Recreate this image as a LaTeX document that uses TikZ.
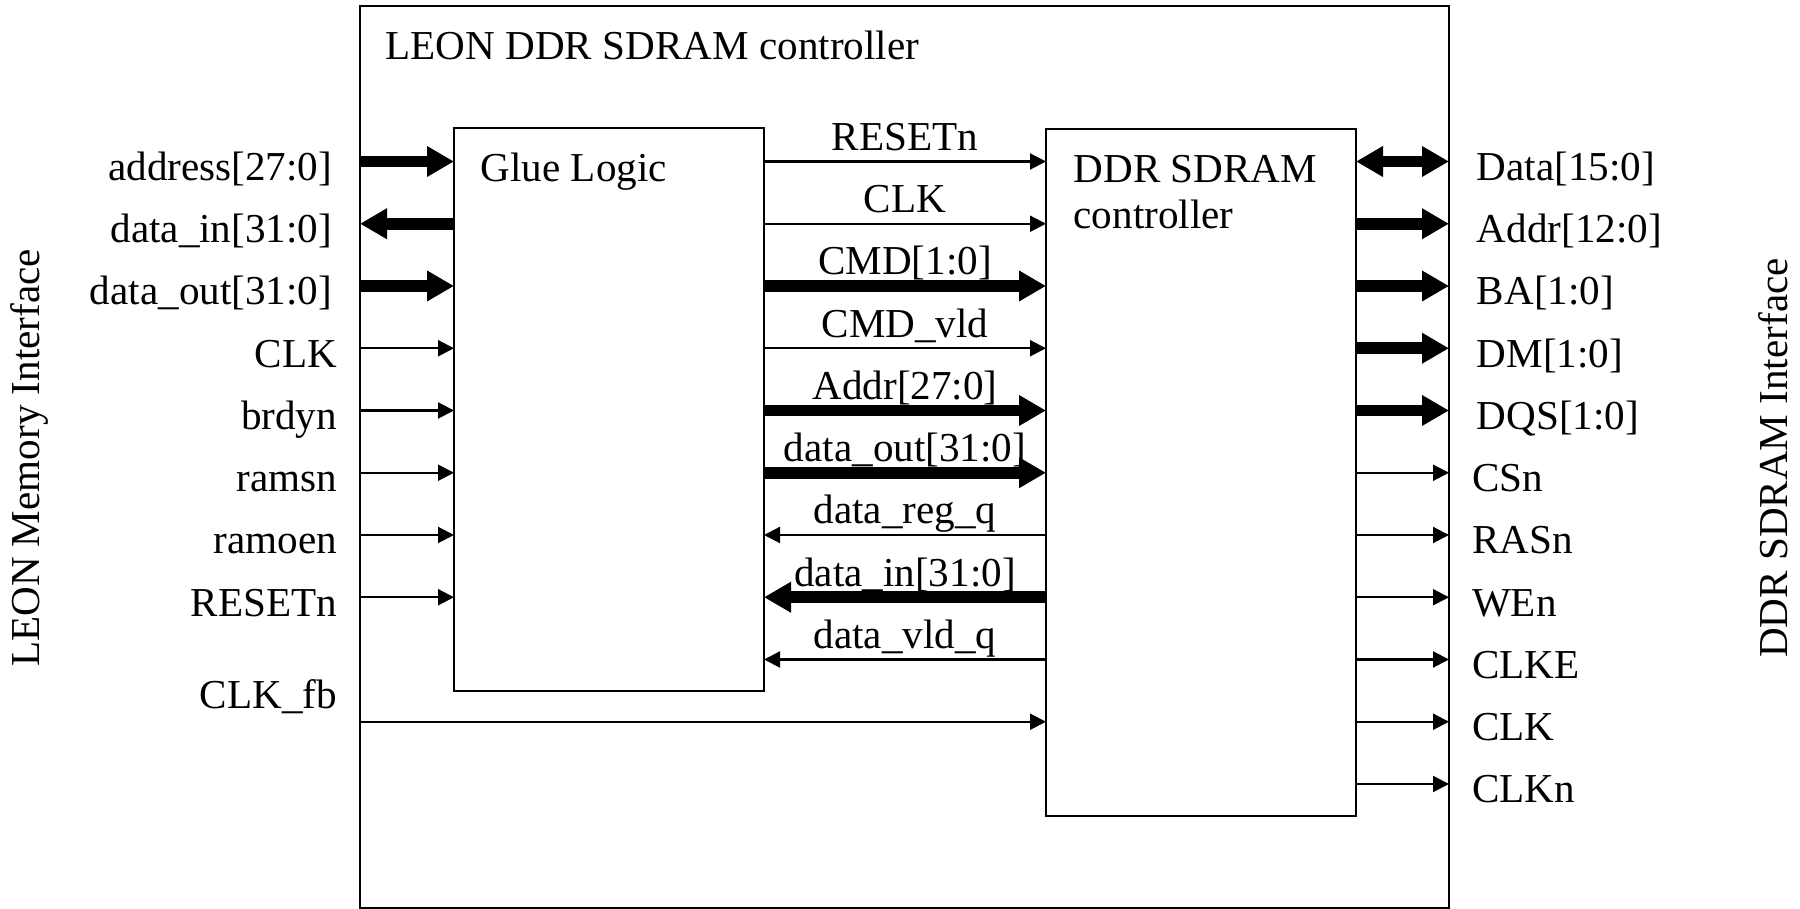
\documentclass[tikz,border=0pt]{standalone}
\usepackage{fontspec}
\setmainfont{Liberation Serif}
\usetikzlibrary{arrows.meta}

\tikzset{
  block/.style={draw, line width=0.6pt, inner sep=0pt, outer sep=0pt},
  lbl/.style={inner sep=0pt, font=\fontsize{11.7}{13}\selectfont},
  sig/.style={line width=0.6pt, -{Triangle[length=1.6mm,width=1.6mm]}},
  bus/.style={line width=3.4pt, -{Triangle[length=2.7mm,width=2.9mm]}},
  bibus/.style={line width=3.4pt, {Triangle[length=2.7mm,width=2.9mm]}-{Triangle[length=2.7mm,width=2.9mm]}},
  inlbl/.style={lbl, anchor=base east, xshift=-2.2mm, yshift=-1.9mm},
  outlbl/.style={lbl, anchor=base west, xshift=2.2mm, yshift=-1.9mm},
  midlbl/.style={lbl, midway, anchor=base, yshift=1.1mm}
}

\begin{document}
\begin{tikzpicture}
    \useasboundingbox (0,0) rectangle (18,9.09);

        % Boxes
        \node[block, minimum width=10.89cm, minimum height=9.02cm] (leon) at (9.045,4.52) {};
        \node[block, minimum width=3.10cm, minimum height=5.63cm] (glue) at (6.09,4.995) {};
        \node[block, minimum width=3.10cm, minimum height=6.87cm] (ddr) at (12.01,4.365) {};

        \node[lbl, anchor=base west] (title) at (3.85,8.49) {LEON DDR SDRAM controller};
        \node[lbl, anchor=base west] (gluename) at (4.80,7.27) {Glue Logic};
        \node[lbl, anchor=north west, align=left] (ddrname) at (10.73,7.54) {DDR SDRAM\\controller};

        \node[lbl, rotate=90, anchor=base] (leonif) at (0.40,4.51) {LEON Memory Interface};
        \node[lbl, rotate=90, anchor=base] (ddrif) at (17.87,4.51) {DDR SDRAM Interface};

        % Rows
        \foreach \k in {0,...,10}
            \coordinate (r\k) at (0,{7.475-0.6225*\k});

        % LEON side
        \draw[bus] (leon.west |- r0) node[inlbl] (a0) {address[27:0]} -- (glue.west |- r0);
        \draw[bus] (glue.west |- r1) -- (leon.west |- r1) node[inlbl] (a1) {data\_in[31:0]};
        \draw[bus] (leon.west |- r2) node[inlbl] (a2) {data\_out[31:0]} -- (glue.west |- r2);
        \draw[sig] (leon.west |- r3) node[inlbl] (a3) {CLK} -- (glue.west |- r3);
        \draw[sig] (leon.west |- r4) node[inlbl] (a4) {brdyn} -- (glue.west |- r4);
        \draw[sig] (leon.west |- r5) node[inlbl] (a5) {ramsn} -- (glue.west |- r5);
        \draw[sig] (leon.west |- r6) node[inlbl] (a6) {ramoen} -- (glue.west |- r6);
        \draw[sig] (leon.west |- r7) node[inlbl] (a7) {RESETn} -- (glue.west |- r7);
        \draw[sig] (leon.west |- r9) node[lbl, anchor=base east, xshift=-2.2mm, yshift=1.3mm] (a9) {CLK\_fb} -- (ddr.west |- r9);

        % Glue logic to controller
        \draw[sig] (glue.east |- r0) -- node[midlbl] (m0) {RESETn} (ddr.west |- r0);
        \draw[sig] (glue.east |- r1) -- node[midlbl] (m1) {CLK} (ddr.west |- r1);
        \draw[bus] (glue.east |- r2) -- node[midlbl] (m2) {CMD[1:0]} (ddr.west |- r2);
        \draw[sig] (glue.east |- r3) -- node[midlbl] (m3) {CMD\_vld} (ddr.west |- r3);
        \draw[bus] (glue.east |- r4) -- node[midlbl] (m4) {Addr[27:0]} (ddr.west |- r4);
        \draw[bus] (glue.east |- r5) -- node[midlbl] (m5) {data\_out[31:0]} (ddr.west |- r5);
        \draw[sig] (ddr.west |- r6) -- node[midlbl] (m6) {data\_reg\_q} (glue.east |- r6);
        \draw[bus] (ddr.west |- r7) -- node[midlbl] (m7) {data\_in[31:0]} (glue.east |- r7);
        \draw[sig] (ddr.west |- r8) -- node[midlbl] (m8) {data\_vld\_q} (glue.east |- r8);

        % DDR side
        \draw[bibus] (ddr.east |- r0) -- (leon.east |- r0) node[outlbl] (d0) {Data[15:0]};
        \draw[bus] (ddr.east |- r1) -- (leon.east |- r1) node[outlbl] (d1) {Addr[12:0]};
        \draw[bus] (ddr.east |- r2) -- (leon.east |- r2) node[outlbl] (d2) {BA[1:0]};
        \draw[bus] (ddr.east |- r3) -- (leon.east |- r3) node[outlbl] (d3) {DM[1:0]};
        \draw[bus] (ddr.east |- r4) -- (leon.east |- r4) node[outlbl] (d4) {DQS[1:0]};
        \draw[sig] (ddr.east |- r5) -- (leon.east |- r5) node[outlbl] (d5) {CSn};
        \draw[sig] (ddr.east |- r6) -- (leon.east |- r6) node[outlbl] (d6) {RASn};
        \draw[sig] (ddr.east |- r7) -- (leon.east |- r7) node[outlbl] (d7) {WEn};
        \draw[sig] (ddr.east |- r8) -- (leon.east |- r8) node[outlbl] (d8) {CLKE};
        \draw[sig] (ddr.east |- r9) -- (leon.east |- r9) node[outlbl] (d9) {CLK};
        \draw[sig] (ddr.east |- r10) -- (leon.east |- r10) node[outlbl] (d10) {CLKn};

    \end{tikzpicture}
\end{document}
